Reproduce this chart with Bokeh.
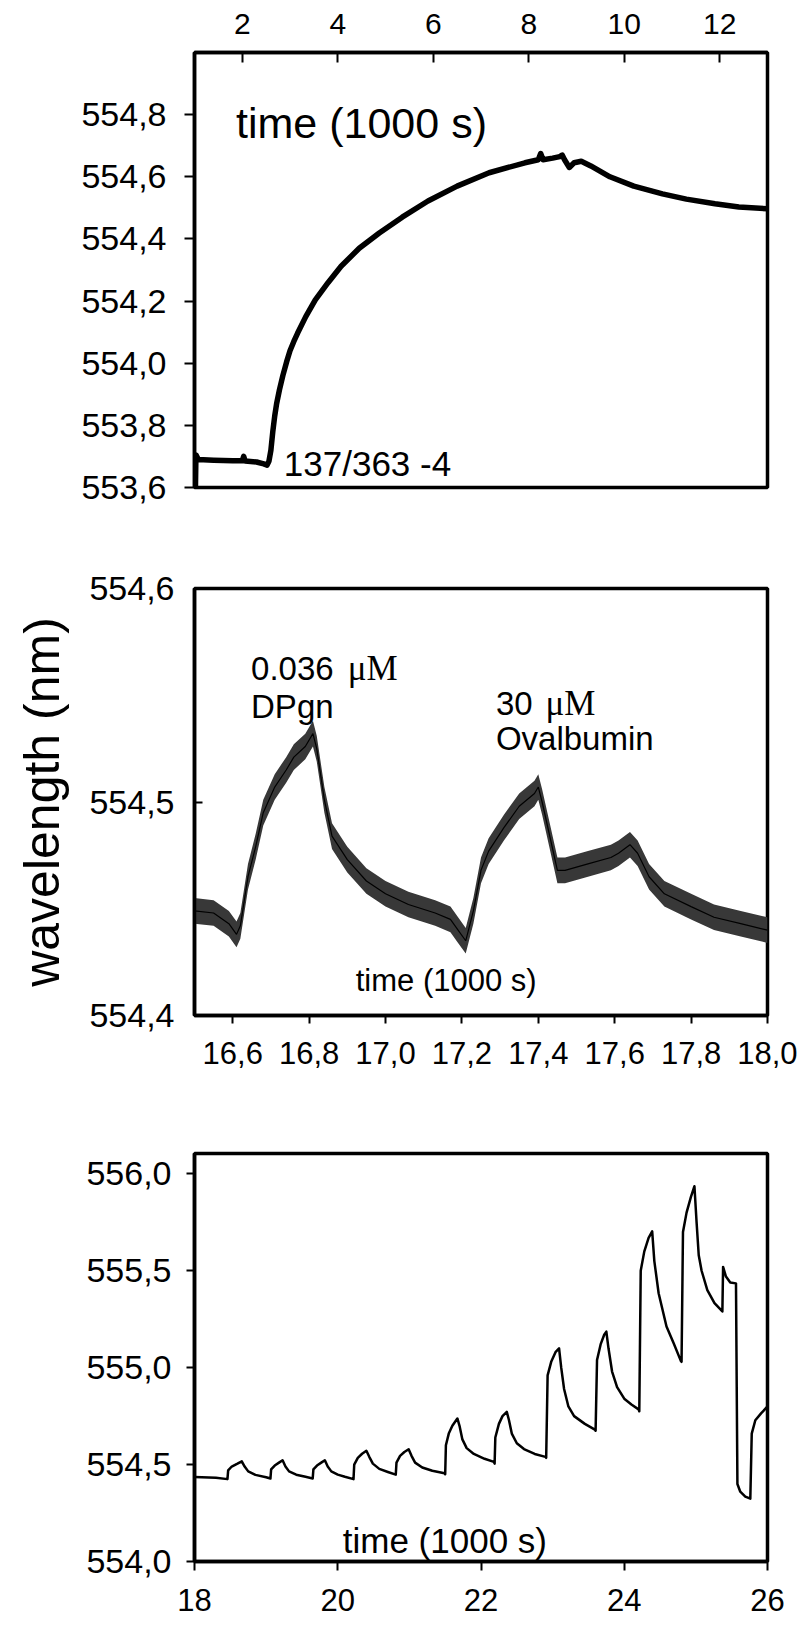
from bokeh.plotting import figure
from bokeh.models import Range1d, FixedTicker, CustomJSTickFormatter, Label
from bokeh.layouts import column
from bokeh.embed import file_html
from bokeh.resources import INLINE

# ---------------- data ----------------
# Panel 1 : slow response (time in 1000 s, wavelength in nm)
t1 = [1.02, 1.03, 1.08, 1.4, 1.8, 2.0, 2.03, 2.06, 2.3, 2.45, 2.52, 2.56, 2.60, 2.64,
      2.68, 2.72, 2.78, 2.85, 2.93, 3.0, 3.08, 3.16, 3.33, 3.53, 3.8, 4.07, 4.45,
      4.87, 5.35, 5.89, 6.5, 7.17, 7.92, 8.2, 8.25, 8.3, 8.5, 8.65, 8.7, 8.75, 8.85,
      8.95, 9.1, 9.3, 9.7, 10.2, 10.8, 11.3, 11.9, 12.4, 13.0]
w1 = [553.60, 553.705, 553.69, 553.688, 553.686, 553.686, 553.70, 553.685, 553.682,
      553.676, 553.672, 553.685, 553.72, 553.78, 553.83, 553.87, 553.915, 553.96,
      554.005, 554.04, 554.07, 554.097, 554.15, 554.204, 554.26, 554.312, 554.37,
      554.419, 554.47, 554.522, 554.57, 554.613, 554.645, 554.655, 554.675, 554.655,
      554.66, 554.665, 554.67, 554.655, 554.63, 554.645, 554.65, 554.635, 554.60,
      554.57, 554.545, 554.528, 554.513, 554.503, 554.497]

# Panel 2 : DPgn / ovalbumin injections (band centre of the noisy signal)
t2 = [16.50, 16.55, 16.59, 16.61, 16.62, 16.64, 16.66, 16.68, 16.71, 16.74, 16.76,
      16.79, 16.81, 16.82, 16.84, 16.86, 16.90, 16.95, 17.00, 17.06, 17.13, 17.17,
      17.19, 17.21, 17.23, 17.25, 17.27, 17.31, 17.35, 17.39, 17.40, 17.41, 17.43,
      17.45, 17.47, 17.53, 17.59, 17.61, 17.64, 17.66, 17.69, 17.73, 17.80, 17.86,
      17.93, 18.00]
w2 = [554.449, 554.448, 554.443, 554.438, 554.442, 554.465, 554.479, 554.495, 554.507,
      554.515, 554.521, 554.526, 554.532, 554.525, 554.501, 554.484, 554.473, 554.463,
      554.457, 554.452, 554.448, 554.445, 554.440, 554.435, 554.449, 554.468, 554.477,
      554.488, 554.498, 554.504, 554.507, 554.500, 554.484, 554.468, 554.468, 554.471,
      554.474, 554.476, 554.480, 554.476, 554.465, 554.457, 554.451, 554.446, 554.443,
      554.440]
w2_noise = 0.006  # half height of the noise band

# Panel 3 : repeated injections
t3 = [18.00, 18.30, 18.46, 18.47, 18.52, 18.60, 18.66, 18.70, 18.75, 18.85, 19.00,
      19.06, 19.07, 19.12, 19.18, 19.23, 19.27, 19.32, 19.42, 19.55, 19.65,
      19.66, 19.71, 19.77, 19.82, 19.86, 19.91, 20.00, 20.10, 20.22,
      20.23, 20.28, 20.34, 20.40, 20.44, 20.49, 20.58, 20.70, 20.81,
      20.82, 20.87, 20.93, 20.99, 21.03, 21.08, 21.18, 21.32, 21.49,
      21.50, 21.51, 21.55, 21.60, 21.67, 21.70, 21.74, 21.80, 21.90, 22.05, 22.18,
      22.19, 22.20, 22.25, 22.30, 22.36, 22.39, 22.43, 22.50, 22.60, 22.75, 22.90,
      22.91, 22.93, 22.98, 23.04, 23.09, 23.12, 23.16, 23.22, 23.30, 23.45, 23.59,
      23.60, 23.62, 23.67, 23.72, 23.75, 23.78, 23.83, 23.90, 24.00, 24.10, 24.20,
      24.21, 24.23, 24.28, 24.34, 24.39, 24.42, 24.48, 24.59, 24.69, 24.79,
      24.80, 24.82, 24.87, 24.93, 24.98, 25.01, 25.04, 25.08, 25.16, 25.26, 25.37,
      25.38, 25.42, 25.48, 25.56, 25.58, 25.62, 25.69, 25.76, 25.78, 25.83, 25.91,
      26.00]
w3 = [554.436, 554.432, 554.425, 554.470, 554.490, 554.505, 554.517, 554.490, 554.465,
      554.447, 554.435, 554.428, 554.475, 554.495, 554.510, 554.522, 554.490, 554.465,
      554.448, 554.437, 554.428,
      554.475, 554.495, 554.510, 554.522, 554.490, 554.465, 554.448, 554.437, 554.425,
      554.500, 554.535, 554.556, 554.571, 554.540, 554.505, 554.478, 554.462, 554.448,
      554.510, 554.545, 554.565, 554.579, 554.545, 554.510, 554.485, 554.468, 554.455,
      554.450, 554.600, 554.660, 554.700, 554.738, 554.700, 554.630, 554.585, 554.555,
      554.530, 554.514,
      554.505, 554.640, 554.710, 554.750, 554.772, 554.730, 554.660, 554.610, 554.580,
      554.555, 554.540,
      554.535, 554.960, 555.030, 555.080, 555.100, 555.000, 554.890, 554.800, 554.750,
      554.710, 554.680,
      554.675, 555.040, 555.120, 555.170, 555.186, 555.100, 554.980, 554.900, 554.840,
      554.810, 554.785,
      554.775, 555.500, 555.600, 555.670, 555.703, 555.550, 555.384, 555.212, 555.126,
      555.035,
      555.030, 555.700, 555.800, 555.880, 555.936, 555.750, 555.580, 555.500, 555.400,
      555.333, 555.290,
      555.520, 555.470, 555.440, 555.435, 554.400, 554.360, 554.335, 554.324, 554.660,
      554.729, 554.764, 554.800]

# ticks
x1_ticks = [2, 4, 6, 8, 10, 12]
y1_ticks = [553.6, 553.8, 554.0, 554.2, 554.4, 554.6, 554.8]
x2_ticks = [16.6, 16.8, 17.0, 17.2, 17.4, 17.6, 17.8, 18.0]
y2_ticks = [554.4, 554.5, 554.6]
x3_ticks = [18, 20, 22, 24, 26]
y3_ticks = [554.0, 554.5, 555.0, 555.5, 556.0]

# ---------------- styling ----------------
FONT = "Liberation Sans"
SERIF = "Liberation Serif"
W = 797
LEFT = 194
RIGHT = 30
COMMA1 = CustomJSTickFormatter(code="return tick.toFixed(1).replace('.', ',');")
INT0 = CustomJSTickFormatter(code="return tick.toFixed(0);")


def make_fig(height, xr, yr, top, bottom, xloc="below"):
    p = figure(width=W, height=height, x_range=Range1d(*xr), y_range=Range1d(*yr),
               x_axis_location=xloc, output_backend="svg", toolbar_location=None,
               min_border_left=LEFT, min_border_right=RIGHT, min_border_top=top,
               min_border_bottom=bottom)
    p.grid.visible = False
    p.outline_line_color = "black"
    p.outline_line_width = 3.5
    p.outline_line_alpha = 1.0
    p.background_fill_color = "white"
    p.border_fill_color = "white"
    for ax in (p.xaxis[0], p.yaxis[0]):
        ax.axis_line_color = "black"
        ax.axis_line_width = 3.5
        ax.major_tick_line_color = "black"
        ax.major_tick_line_width = 2
        ax.minor_tick_line_color = None
        ax.major_label_text_font = FONT
        ax.major_label_text_color = "black"
    p.yaxis[0].major_label_text_font_size = "34px"
    p.xaxis[0].major_label_text_font_size = "31px"
    return p


def add_text(p, x, y, text, size, font=FONT):
    p.add_layout(Label(x=x, y=y, text=text, text_font=font, text_font_size=size,
                       text_color="black", text_align="left",
                       text_baseline="alphabetic"))


# ---------- Panel 1 ----------
p1 = make_fig(530, (1, 13), (553.6, 555.0), 52, 43, xloc="above")
p1.xaxis[0].ticker = FixedTicker(ticks=x1_ticks)
p1.xaxis[0].formatter = INT0
p1.xaxis[0].major_tick_in = 10
p1.xaxis[0].major_tick_out = 0
p1.xaxis[0].major_label_standoff = 19
p1.xaxis[0].major_label_text_font_size = "30px"
p1.yaxis[0].ticker = FixedTicker(ticks=y1_ticks)
p1.yaxis[0].formatter = COMMA1
p1.yaxis[0].major_tick_out = 10
p1.yaxis[0].major_tick_in = 0
p1.yaxis[0].major_label_standoff = 18
p1.line(t1, w1, line_color="black", line_width=5.5, line_join="round")
add_text(p1, 1.87, 554.772, "time (1000 s)", "43px")
add_text(p1, 2.87, 553.677, "137/363 -4", "35px")

# ---------- Panel 2 ----------
p2 = make_fig(560, (16.5, 18.0), (554.4, 554.6), 58, 75)
p2.xaxis[0].ticker = FixedTicker(ticks=x2_ticks)
p2.xaxis[0].formatter = COMMA1
p2.xaxis[0].major_tick_out = 8
p2.xaxis[0].major_tick_in = 0
p2.xaxis[0].major_label_standoff = 18
p2.yaxis[0].ticker = FixedTicker(ticks=y2_ticks)
p2.yaxis[0].formatter = COMMA1
p2.yaxis[0].major_tick_out = 0
p2.yaxis[0].major_tick_in = 8
p2.yaxis[0].major_label_standoff = 20
p2.yaxis[0].axis_label = "wavelength (nm)"
p2.yaxis[0].axis_label_text_font = FONT
p2.yaxis[0].axis_label_text_font_size = "50px"
p2.yaxis[0].axis_label_text_font_style = "normal"
p2.yaxis[0].axis_label_text_color = "black"
p2.yaxis[0].axis_label_standoff = 16
lo2 = [v - w2_noise for v in w2]
hi2 = [v + w2_noise for v in w2]
p2.varea(x=t2, y1=lo2, y2=hi2, fill_color="#383838")
p2.line(t2, w2, line_color="black", line_width=1.2)
add_text(p2, 16.648, 554.5625, "0.036", "33px")
add_text(p2, 16.901, 554.5625, "\u03bcM", "35px", SERIF)
add_text(p2, 16.648, 554.5447, "DPgn", "33px")
add_text(p2, 17.289, 554.5461, "30", "33px")
add_text(p2, 17.419, 554.5461, "\u03bcM", "35px", SERIF)
add_text(p2, 17.289, 554.5297, "Ovalbumin", "33px")
add_text(p2, 16.922, 554.4164, "time (1000 s)", "31px")

# ---------- Panel 3 ----------
p3 = make_fig(548, (18, 26), (554.0, 556.105), 63, 77)
p3.xaxis[0].ticker = FixedTicker(ticks=x3_ticks)
p3.xaxis[0].formatter = INT0
p3.xaxis[0].major_tick_out = 9
p3.xaxis[0].major_tick_in = 0
p3.xaxis[0].major_label_standoff = 18
p3.yaxis[0].ticker = FixedTicker(ticks=y3_ticks)
p3.yaxis[0].formatter = COMMA1
p3.yaxis[0].major_tick_out = 8
p3.yaxis[0].major_tick_in = 0
p3.yaxis[0].major_label_standoff = 15
p3.line(t3, w3, line_color="black", line_width=2.5, line_join="round")
add_text(p3, 20.07, 554.108, "time (1000 s)", "35px")

layout = column(p1, p2, p3, spacing=0)
open("out.html", "w").write(file_html(layout, INLINE))
